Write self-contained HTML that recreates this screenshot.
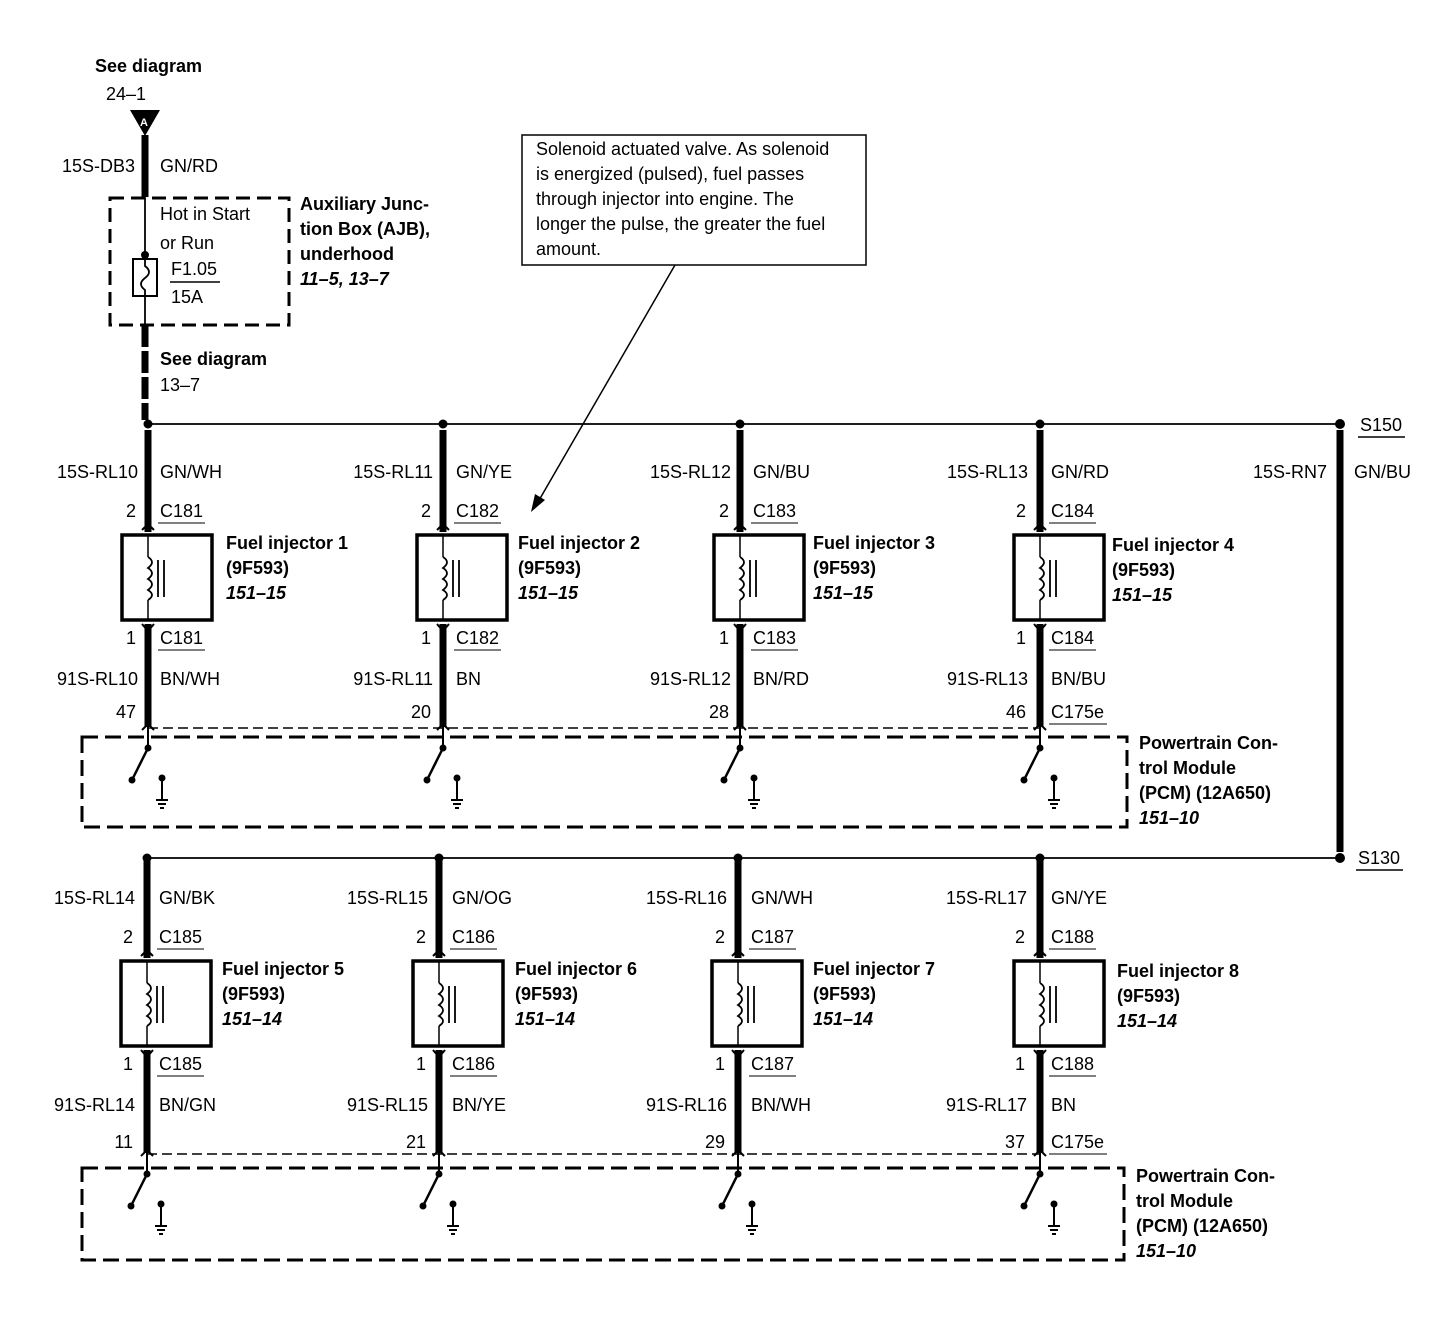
<!DOCTYPE html>
<html><head><meta charset="utf-8"><style>
body{margin:0;background:#fff}
svg{display:block}
text{font-family:"Liberation Sans",sans-serif;font-size:18px;fill:#000}
.b{font-weight:bold;font-size:18px}
.bi{font-weight:bold;font-style:italic;font-size:18px}
.e{text-anchor:end}
.c{font-size:18px}
</style></head><body>
<svg width="1434" height="1344" viewBox="0 0 1434 1344" xmlns="http://www.w3.org/2000/svg">
<defs>
<g id="col" stroke="#000" fill="none">
  <line x1="0" y1="6" x2="0" y2="108" stroke-width="7"/>
  <path d="M-6 106 L0 100 L6 106" stroke-width="2"/>
  <rect x="-26" y="111" width="90" height="85" stroke-width="3.5"/>
  <line x1="0" y1="111" x2="0" y2="133" stroke-width="1.5"/>
  <path d="M0 133 q8 5 0 11 q8 5 0 11 q8 5 0 11 q8 5 0 10" stroke-width="1.8"/>
  <line x1="0" y1="176" x2="0" y2="196" stroke-width="1.5"/>
  <line x1="10" y1="136" x2="10" y2="173" stroke-width="1.8"/>
  <line x1="16" y1="136" x2="16" y2="173" stroke-width="1.8"/>
  <line x1="0" y1="200" x2="0" y2="303" stroke-width="7"/>
  <path d="M-6 200 L0 207 L6 200" stroke-width="2"/>
  <path d="M-6 306 L0 300 L6 306" stroke-width="2"/>
  <line x1="0" y1="303" x2="0" y2="324" stroke-width="2"/>
  <line x1="0" y1="324" x2="-16" y2="356" stroke-width="2.5"/>
  <circle cx="0" cy="324" r="3" fill="#000"/>
  <circle cx="-16" cy="356" r="3" fill="#000"/>
  <circle cx="14" cy="354" r="3" fill="#000"/>
  <line x1="14" y1="354" x2="14" y2="376" stroke-width="2"/>
  <line x1="8" y1="376" x2="20" y2="376" stroke-width="2"/>
  <line x1="10" y1="380" x2="18" y2="380" stroke-width="2"/>
  <line x1="12" y1="384" x2="16" y2="384" stroke-width="2"/>
</g>
</defs>

<text x="95" y="72" class="b">See diagram</text>
<text x="106" y="100">24–1</text>
<path d="M130 110 L160 110 L145 136 Z" fill="#000"/>
<text x="140" y="126" style="font-size:11px;fill:#fff;font-weight:bold">A</text>
<line x1="145" y1="135" x2="145" y2="197" stroke="#000" stroke-width="7"/>
<text x="135" y="172" class="e">15S-DB3</text>
<text x="160" y="172">GN/RD</text>
<rect x="110" y="198" width="179" height="127" fill="none" stroke="#000" stroke-width="3" stroke-dasharray="14,7"/>
<line x1="145" y1="197" x2="145" y2="325" stroke="#000" stroke-width="1.8"/>
<circle cx="145" cy="255" r="4"/>
<rect x="133" y="259" width="24" height="37" fill="#fff" stroke="#000" stroke-width="2"/>
<path d="M145 259 L145 266 q8 6 0 12 q-8 6 0 12 L145 296" fill="none" stroke="#000" stroke-width="1.8"/>
<text x="160" y="220">Hot in Start</text>
<text x="160" y="249">or Run</text>
<text x="171" y="275">F1.05</text>
<line x1="170" y1="282" x2="220" y2="282" stroke="#000" stroke-width="1.5"/>
<text x="171" y="303">15A</text>
<text x="300" y="210" class="b">Auxiliary Junc-</text>
<text x="300" y="235" class="b">tion Box (AJB),</text>
<text x="300" y="260" class="b">underhood</text>
<text x="300" y="285" class="bi">11–5, 13–7</text>
<line x1="145" y1="325" x2="145" y2="420" stroke="#000" stroke-width="7" stroke-dasharray="22,4"/>
<text x="160" y="365" class="b">See diagram</text>
<text x="160" y="391">13–7</text>

<rect x="522" y="135" width="344" height="130" fill="#fff" stroke="#000" stroke-width="1.5"/>
<text x="536" y="155" class="c">Solenoid actuated valve. As solenoid</text>
<text x="536" y="180" class="c">is energized (pulsed), fuel passes</text>
<text x="536" y="205" class="c">through injector into engine. The</text>
<text x="536" y="230" class="c">longer the pulse, the greater the fuel</text>
<text x="536" y="255" class="c">amount.</text>
<line x1="675" y1="265" x2="538" y2="502" stroke="#000" stroke-width="1.5"/>
<path d="M531 512 L535 494 L545 500 Z" fill="#000"/>

<line x1="148" y1="424" x2="1340" y2="424" stroke="#000" stroke-width="1.8"/>
<line x1="147" y1="858" x2="1340" y2="858" stroke="#000" stroke-width="1.8"/>
<line x1="1340" y1="430" x2="1340" y2="852" stroke="#000" stroke-width="7"/>
<circle cx="1340" cy="424" r="5"/><circle cx="1340" cy="858" r="5"/>
<text x="1360" y="431">S150</text><line x1="1358" y1="437" x2="1405" y2="437" stroke="#000" stroke-width="1.5"/>
<text x="1358" y="864">S130</text><line x1="1356" y1="870" x2="1403" y2="870" stroke="#000" stroke-width="1.5"/>
<text x="1327" y="478" class="e">15S-RN7</text>
<text x="1354" y="478">GN/BU</text>

<line x1="148" y1="728" x2="1040" y2="728" stroke="#000" stroke-width="1.5" stroke-dasharray="10,5"/>
<line x1="147" y1="1154" x2="1040" y2="1154" stroke="#000" stroke-width="1.5" stroke-dasharray="10,5"/>

<rect x="82" y="737" width="1045" height="90" fill="none" stroke="#000" stroke-width="3" stroke-dasharray="16,7"/>
<rect x="82" y="1168" width="1042" height="92" fill="none" stroke="#000" stroke-width="3" stroke-dasharray="16,7"/>
<text x="1139" y="749" class="b">Powertrain Con-</text>
<text x="1139" y="774" class="b">trol Module</text>
<text x="1139" y="799" class="b">(PCM) (12A650)</text>
<text x="1139" y="824" class="bi">151–10</text>
<text x="1136" y="1182" class="b">Powertrain Con-</text>
<text x="1136" y="1207" class="b">trol Module</text>
<text x="1136" y="1232" class="b">(PCM) (12A650)</text>
<text x="1136" y="1257" class="bi">151–10</text>

<g>
<circle cx="148" cy="424" r="4.5"/><circle cx="443" cy="424" r="4.5"/><circle cx="740" cy="424" r="4.5"/><circle cx="1040" cy="424" r="4.5"/>
<use href="#col" x="148" y="424"/>
<use href="#col" x="443" y="424"/>
<use href="#col" x="740" y="424"/>
<use href="#col" x="1040" y="424"/>
<circle cx="147" cy="858" r="4.5"/><circle cx="439" cy="858" r="4.5"/><circle cx="738" cy="858" r="4.5"/><circle cx="1040" cy="858" r="4.5"/>
<use href="#col" x="147" y="850"/>
<use href="#col" x="439" y="850"/>
<use href="#col" x="738" y="850"/>
<use href="#col" x="1040" y="850"/>
</g>

<text x="138" y="478" class="e">15S-RL10</text><text x="160" y="478">GN/WH</text>
<text x="136" y="517" class="e">2</text><text x="160" y="517">C181</text><line x1="158" y1="523" x2="205" y2="523" stroke="#000"/>
<text x="226" y="549" class="b">Fuel injector 1</text><text x="226" y="574" class="b">(9F593)</text><text x="226" y="599" class="bi">151–15</text>
<text x="136" y="644" class="e">1</text><text x="160" y="644">C181</text><line x1="158" y1="650" x2="205" y2="650" stroke="#000"/>
<text x="138" y="685" class="e">91S-RL10</text><text x="160" y="685">BN/WH</text>
<text x="136" y="718" class="e">47</text>

<text x="433" y="478" class="e">15S-RL11</text><text x="456" y="478">GN/YE</text>
<text x="431" y="517" class="e">2</text><text x="456" y="517">C182</text><line x1="454" y1="523" x2="501" y2="523" stroke="#000"/>
<text x="518" y="549" class="b">Fuel injector 2</text><text x="518" y="574" class="b">(9F593)</text><text x="518" y="599" class="bi">151–15</text>
<text x="431" y="644" class="e">1</text><text x="456" y="644">C182</text><line x1="454" y1="650" x2="501" y2="650" stroke="#000"/>
<text x="433" y="685" class="e">91S-RL11</text><text x="456" y="685">BN</text>
<text x="431" y="718" class="e">20</text>

<text x="731" y="478" class="e">15S-RL12</text><text x="753" y="478">GN/BU</text>
<text x="729" y="517" class="e">2</text><text x="753" y="517">C183</text><line x1="751" y1="523" x2="798" y2="523" stroke="#000"/>
<text x="813" y="549" class="b">Fuel injector 3</text><text x="813" y="574" class="b">(9F593)</text><text x="813" y="599" class="bi">151–15</text>
<text x="729" y="644" class="e">1</text><text x="753" y="644">C183</text><line x1="751" y1="650" x2="798" y2="650" stroke="#000"/>
<text x="731" y="685" class="e">91S-RL12</text><text x="753" y="685">BN/RD</text>
<text x="729" y="718" class="e">28</text>

<text x="1028" y="478" class="e">15S-RL13</text><text x="1051" y="478">GN/RD</text>
<text x="1026" y="517" class="e">2</text><text x="1051" y="517">C184</text><line x1="1049" y1="523" x2="1096" y2="523" stroke="#000"/>
<text x="1112" y="551" class="b">Fuel injector 4</text><text x="1112" y="576" class="b">(9F593)</text><text x="1112" y="601" class="bi">151–15</text>
<text x="1026" y="644" class="e">1</text><text x="1051" y="644">C184</text><line x1="1049" y1="650" x2="1096" y2="650" stroke="#000"/>
<text x="1028" y="685" class="e">91S-RL13</text><text x="1051" y="685">BN/BU</text>
<text x="1026" y="718" class="e">46</text><text x="1051" y="718">C175e</text><line x1="1049" y1="724" x2="1107" y2="724" stroke="#000"/>

<text x="135" y="904" class="e">15S-RL14</text><text x="159" y="904">GN/BK</text>
<text x="133" y="943" class="e">2</text><text x="159" y="943">C185</text><line x1="157" y1="949" x2="204" y2="949" stroke="#000"/>
<text x="222" y="975" class="b">Fuel injector 5</text><text x="222" y="1000" class="b">(9F593)</text><text x="222" y="1025" class="bi">151–14</text>
<text x="133" y="1070" class="e">1</text><text x="159" y="1070">C185</text><line x1="157" y1="1076" x2="204" y2="1076" stroke="#000"/>
<text x="135" y="1111" class="e">91S-RL14</text><text x="159" y="1111">BN/GN</text>
<text x="133" y="1148" class="e">11</text>

<text x="428" y="904" class="e">15S-RL15</text><text x="452" y="904">GN/OG</text>
<text x="426" y="943" class="e">2</text><text x="452" y="943">C186</text><line x1="450" y1="949" x2="497" y2="949" stroke="#000"/>
<text x="515" y="975" class="b">Fuel injector 6</text><text x="515" y="1000" class="b">(9F593)</text><text x="515" y="1025" class="bi">151–14</text>
<text x="426" y="1070" class="e">1</text><text x="452" y="1070">C186</text><line x1="450" y1="1076" x2="497" y2="1076" stroke="#000"/>
<text x="428" y="1111" class="e">91S-RL15</text><text x="452" y="1111">BN/YE</text>
<text x="426" y="1148" class="e">21</text>

<text x="727" y="904" class="e">15S-RL16</text><text x="751" y="904">GN/WH</text>
<text x="725" y="943" class="e">2</text><text x="751" y="943">C187</text><line x1="749" y1="949" x2="796" y2="949" stroke="#000"/>
<text x="813" y="975" class="b">Fuel injector 7</text><text x="813" y="1000" class="b">(9F593)</text><text x="813" y="1025" class="bi">151–14</text>
<text x="725" y="1070" class="e">1</text><text x="751" y="1070">C187</text><line x1="749" y1="1076" x2="796" y2="1076" stroke="#000"/>
<text x="727" y="1111" class="e">91S-RL16</text><text x="751" y="1111">BN/WH</text>
<text x="725" y="1148" class="e">29</text>

<text x="1027" y="904" class="e">15S-RL17</text><text x="1051" y="904">GN/YE</text>
<text x="1025" y="943" class="e">2</text><text x="1051" y="943">C188</text><line x1="1049" y1="949" x2="1096" y2="949" stroke="#000"/>
<text x="1117" y="977" class="b">Fuel injector 8</text><text x="1117" y="1002" class="b">(9F593)</text><text x="1117" y="1027" class="bi">151–14</text>
<text x="1025" y="1070" class="e">1</text><text x="1051" y="1070">C188</text><line x1="1049" y1="1076" x2="1096" y2="1076" stroke="#000"/>
<text x="1027" y="1111" class="e">91S-RL17</text><text x="1051" y="1111">BN</text>
<text x="1025" y="1148" class="e">37</text><text x="1051" y="1148">C175e</text><line x1="1049" y1="1154" x2="1107" y2="1154" stroke="#000"/>
</svg>
</body></html>
